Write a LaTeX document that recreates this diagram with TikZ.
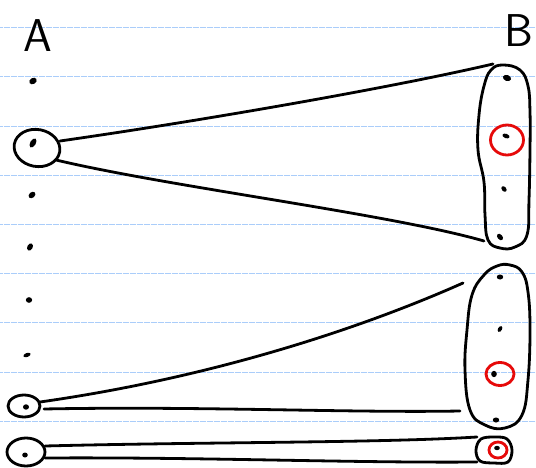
\documentclass[tikz,border=0pt]{standalone}
\usetikzlibrary{shapes.geometric}
\definecolor{ruleblue}{RGB}{170,205,250}
\definecolor{inkred}{RGB}{230,10,10}
\begin{document}
\begin{tikzpicture}[x=1pt,y=-1pt,
  ink/.style={line width=2.8pt,line cap=round,line join=round,black},
  rline/.style={line width=1.1pt,ruleblue,dash pattern=on 3pt off 0.5pt},
  blob/.style={draw=black,ellipse,line width=2.8pt,inner sep=0pt},
  redring/.style={draw=inkred,ellipse,line width=2.8pt,inner sep=0pt},
  dotmark/.style={fill=black},
  handtext/.style={font=\fontsize{46}{46}\selectfont\sffamily}]
\useasboundingbox (0,0) rectangle (536,468);
\fill[white] (0,0) rectangle (536,468);
% ruled lines
\foreach \k in {0,...,8}{
  \draw[rline] (0,{27.7+49.2*\k}) -- (536,{27.7+49.2*\k});
}
% labels
\node[handtext] (labA) at (38,36) {A};
\node[handtext] (labB) at (519,31) {B};
% column A
\fill[dotmark,rotate around={30:(33,81)}] (33,81) ellipse (4pt and 3pt);
\node[blob,minimum width=46pt,minimum height=37pt,rotate=-10] (a2) at (37,148) {};
\fill[dotmark,rotate around={60:(33,143)}] (33,143) ellipse (5pt and 2.8pt);
\fill[dotmark,rotate around={40:(32,195)}] (32,195) ellipse (3.8pt and 2.8pt);
\fill[dotmark,rotate around={60:(30,247)}] (30,247) ellipse (3.8pt and 2.7pt);
\fill[dotmark] (29,300) ellipse (3.2pt and 2.8pt);
\fill[dotmark,rotate around={20:(27,355)}] (27,355) ellipse (3.8pt and 2pt);
\node[blob,minimum width=32pt,minimum height=22pt] (a7) at (24,406) {};
\fill[dotmark] (26,407) ellipse (3pt and 2.7pt);
\node[blob,minimum width=38pt,minimum height=28pt] (a8) at (26,452) {};
\fill[dotmark] (25,455) ellipse (2.8pt and 2.5pt);
% column B capsules
\draw[ink] plot[smooth cycle,tension=0.7] coordinates {
  (503,65) (520,70) (528,86) (530,112) (530,150) (529,200) (527,235)
  (515,247) (500,248) (488,240) (485,215) (484,182) (478,150) (479,115)
  (484,86) (491,70)};
\coordinate (b1) at (505,156);
\draw[ink] plot[smooth cycle,tension=0.7] coordinates {
  (510,265) (522,272) (528,292) (530,330) (528,380) (522,415) (505,428)
  (485,425) (470,410) (465,370) (467,330) (472,295) (484,275) (497,266)};
\coordinate (b2) at (498,346);
\draw[ink] plot[smooth cycle,tension=0.6] coordinates {
  (495,437) (507,439) (512,450) (508,462) (494,463) (480,461) (476,450) (481,439)};
\coordinate (b3) at (494,450);
% dots in B
\fill[dotmark,rotate around={-20:(507,78)}] (507,78) ellipse (4.2pt and 3pt);
\fill[dotmark,rotate around={-20:(506,136)}] (506,136) ellipse (3.7pt and 2.2pt);
\fill[dotmark,rotate around={-50:(504,189)}] (504,189) ellipse (3.2pt and 2.2pt);
\fill[dotmark,rotate around={-50:(500,237)}] (500,237) ellipse (3.7pt and 2.5pt);
\fill[dotmark] (500,277) ellipse (3.2pt and 2.5pt);
\fill[dotmark,rotate around={60:(500,329)}] (500,329) ellipse (3.2pt and 2pt);
\fill[dotmark] (494,374) ellipse (2.8pt and 3.2pt);
\fill[dotmark] (496,420) ellipse (3.2pt and 2.5pt);
\fill[dotmark] (497,448) ellipse (2.8pt and 2.2pt);
% red rings
\node[redring,minimum width=33pt,minimum height=30pt] (r1) at (507,140) {};
\node[redring,minimum width=28pt,minimum height=23pt] (r2) at (500,374) {};
\node[redring,minimum width=18pt,minimum height=16pt] (r3) at (498,450) {};
% connector end points
\coordinate (t1s) at (60,141);
\coordinate (t1e) at (493,64);
\coordinate (t2s) at (56,160);
\coordinate (t2e) at (484,241);
\coordinate (m1s) at (40,402);
\coordinate (m1e) at (463,283);
\coordinate (m2s) at (44,409);
\coordinate (m2e) at (460,411);
\coordinate (l1s) at (45,446);
\coordinate (l1e) at (477,437);
\coordinate (l2s) at (45,458);
\coordinate (l2e) at (477,462);
% connectors
\draw[ink] (t1s) .. controls (200,121) and (390,88) .. (t1e);
\draw[ink] (t2s) .. controls (170,187) and (390,214) .. (t2e);
\draw[ink] (m1s) .. controls (230,375) and (380,320) .. (m1e);
\draw[ink] (m2s) .. controls (200,406) and (350,413) .. (m2e);
\draw[ink] (l1s) .. controls (200,442) and (380,443) .. (l1e);
\draw[ink] (l2s) .. controls (200,457) and (350,463) .. (l2e);
\end{tikzpicture}
\end{document}
